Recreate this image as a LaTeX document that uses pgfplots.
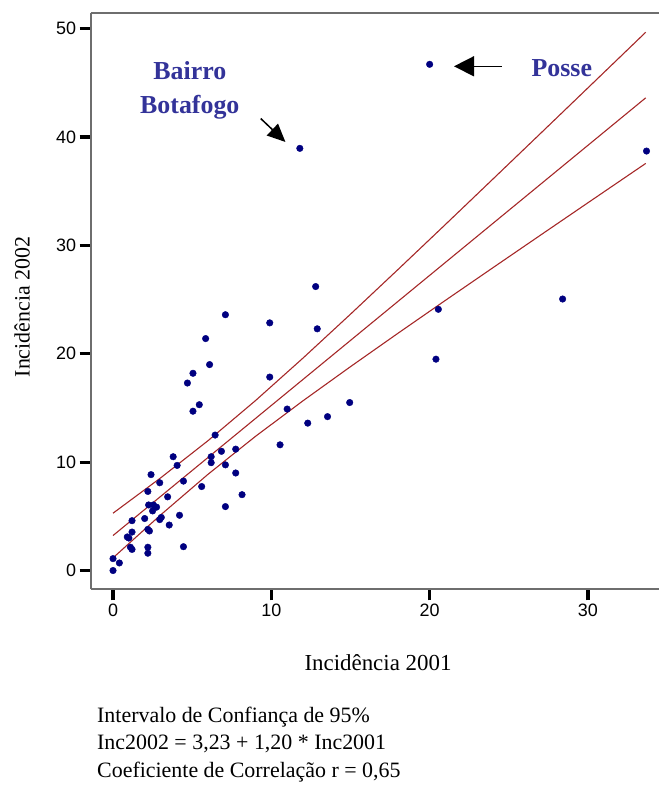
\documentclass[border=0pt]{standalone}
\usepackage{fontspec}
\setmainfont{Liberation Serif}
\newfontfamily\ticksans{Liberation Sans}
\usepackage{pgfplots}
\pgfplotsset{compat=1.18}
\usetikzlibrary{arrows.meta}
\definecolor{navypt}{RGB}{0,0,128}
\definecolor{regred}{RGB}{165,40,40}
\definecolor{lblblue}{RGB}{51,51,153}
\definecolor{axgray}{RGB}{110,110,110}
\begin{document}
\begin{tikzpicture}[x=1bp,y=1bp]
\begin{axis}[at={(0,0)}, anchor=south west, scale only axis,
  width=568bp, height=576bp,
  xmin=-1.41, xmax=34.47, ymin=-1.73, ymax=51.41,
  axis x line*=box, axis y line*=left,
  axis line style={axgray, line width=2bp},
  xtick={0,10,20,30}, ytick={0,10,20,30,40,50},
  xtick pos=bottom, ytick pos=left,
  tick align=outside, major tick length=11bp,
  major tick style={black, line width=3.2bp},
  every tick/.style={black, line width=3.2bp},
  ticklabel style={font=\ticksans\fontsize{18}{18}\selectfont},
  /pgf/number format/assume math mode=true,
]
\addplot[regred, line width=1.1bp, no marks] coordinates {
(0,5.29)(3,8.54)(6,11.98)(9,15.68)(12,19.60)(15,23.65)(18,27.77)(21,31.93)(24,36.12)(27,40.32)(30,44.53)(33.65,49.66)};
\addplot[regred, line width=1.1bp, no marks] coordinates {(0,3.23)(33.65,43.61)};
\addplot[regred, line width=1.1bp, no marks] coordinates {
(0,1.17)(3,5.12)(6,8.88)(9,12.38)(12,15.66)(15,18.81)(18,21.89)(21,24.93)(24,27.94)(27,30.94)(30,33.93)(33.65,37.56)};
\addplot[only marks, mark=*, mark size=3.3bp, color=navypt, mark options={draw=navypt, fill=navypt}] coordinates {
(0,0)(0,1.1)(0.4,0.7)(0.9,3.1)(1.0,3.0)(1.1,2.15)(1.2,1.95)(1.2,3.55)(1.2,4.6)
(2.0,4.8)(2.2,3.8)(2.3,3.65)(2.2,2.15)(2.2,1.6)(2.2,7.3)(2.25,6.05)(2.4,8.85)
(2.55,6.05)(2.5,5.5)(2.75,5.85)(2.95,8.1)(2.95,4.7)(3.05,4.9)(3.45,6.8)(3.55,4.2)
(3.8,10.5)(4.05,9.7)(4.2,5.1)(4.45,8.25)(4.45,2.2)(4.7,17.3)(5.05,18.2)(5.05,14.7)
(5.45,15.3)(5.6,7.75)(5.85,21.4)(6.1,19.0)(6.2,10.5)(6.2,9.95)(6.45,12.5)(6.85,11.0)
(7.1,23.6)(7.1,9.75)(7.1,5.9)(7.75,11.2)(7.75,9.0)(8.15,7.0)(9.9,22.85)(9.9,17.85)
(10.55,11.6)(11.0,14.9)(11.8,38.95)(12.3,13.6)(12.8,26.2)(12.9,22.3)(13.55,14.2)
(14.95,15.5)(20.0,46.7)(20.4,19.5)(20.55,24.1)(28.4,25.05)(33.7,38.7)};
\node[lblblue, font=\bfseries\fontsize{26}{34}\selectfont, align=center] at (axis cs:4.85,44.3) {Bairro\\Botafogo};
\node[lblblue, font=\bfseries\fontsize{26}{34}\selectfont] at (axis cs:28.35,46.34) {Posse};
\draw[-{Triangle[length=20bp,width=20bp]}, line width=1.5bp] (axis cs:24.57,46.52) -- (axis cs:21.54,46.52);
\draw[-{Triangle[length=18bp,width=16bp]}, line width=1.5bp] (axis cs:9.33,41.70) -- (axis cs:10.89,39.54);
\end{axis}
\node[rotate=90, font=\fontsize{22}{22}\selectfont] at (-68.7,282.3) {Incidência 2002};
\node[font=\fontsize{23}{23}\selectfont] at (287.3,-73.7) {Incidência 2001};
\node[anchor=west, inner sep=0pt, font=\fontsize{22}{22}\selectfont] at (6.3,-128.7) {\strut Intervalo de Confiança de 95\%};
\node[anchor=west, inner sep=0pt, font=\fontsize{22}{22}\selectfont] at (6.3,-155.7) {\strut Inc2002 = 3,23 + 1,20 * Inc2001};
\node[anchor=west, inner sep=0pt, font=\fontsize{22}{22}\selectfont] at (6.3,-183.7) {\strut Coeficiente de Correlação r = 0,65};
\pgfresetboundingbox
\path[use as bounding box] (-90.7,-195.7) rectangle (568.3,589.3);
\end{tikzpicture}
\end{document}
